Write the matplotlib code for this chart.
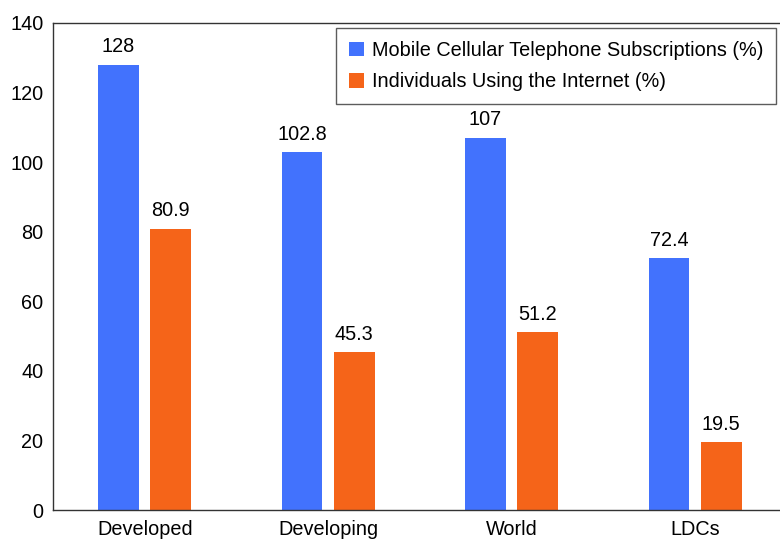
import matplotlib
matplotlib.use('Agg')
import matplotlib.pyplot as plt
import numpy as np

categories = ['Developed', 'Developing', 'World', 'LDCs']
mobile = [128, 102.8, 107, 72.4]
internet = [80.9, 45.3, 51.2, 19.5]
mobile_labels = ['128', '102.8', '107', '72.4']
internet_labels = ['80.9', '45.3', '51.2', '19.5']

plt.rcParams['font.family'] = ['Liberation Sans', 'DejaVu Sans']

fig = plt.figure(figsize=(7.8, 5.4), dpi=100)
ax = fig.add_axes([53 / 780, 30 / 540, 734 / 780, 487 / 540])

x = np.arange(len(categories))
w = 0.223
b1 = ax.bar(x - 0.143, mobile, w, color='#4272fd', label='Mobile Cellular Telephone Subscriptions (%)')
b2 = ax.bar(x + 0.142, internet, w, color='#f56419', label='Individuals Using the Internet (%)')
ax.bar_label(b1, labels=mobile_labels, padding=6, fontsize=14.3)
ax.bar_label(b2, labels=internet_labels, padding=6, fontsize=14.3)

ax.set_xlim(-0.5, 3.5)
ax.set_ylim(0, 140)
ax.set_yticks(range(0, 141, 20))
ax.set_xticks(x)
ax.set_xticklabels(categories)
ax.tick_params(length=0, labelsize=14.3, pad=7)
ax.spines['right'].set_visible(False)
for s in ['left', 'bottom', 'top']:
    ax.spines[s].set_color('#333333')
    ax.spines[s].set_linewidth(1.0)

leg = ax.legend(loc='upper right', bbox_to_anchor=(776 / 780, 1 - 28 / 540),
                bbox_transform=fig.transFigure, fontsize=14.3, frameon=True,
                fancybox=False, edgecolor='#333333', handlelength=0.75,
                handleheight=0.75, handletextpad=0.4, borderpad=0.65,
                labelspacing=0.62, borderaxespad=0)
leg.get_frame().set_linewidth(1.0)

fig.savefig('out.png', dpi=100)
